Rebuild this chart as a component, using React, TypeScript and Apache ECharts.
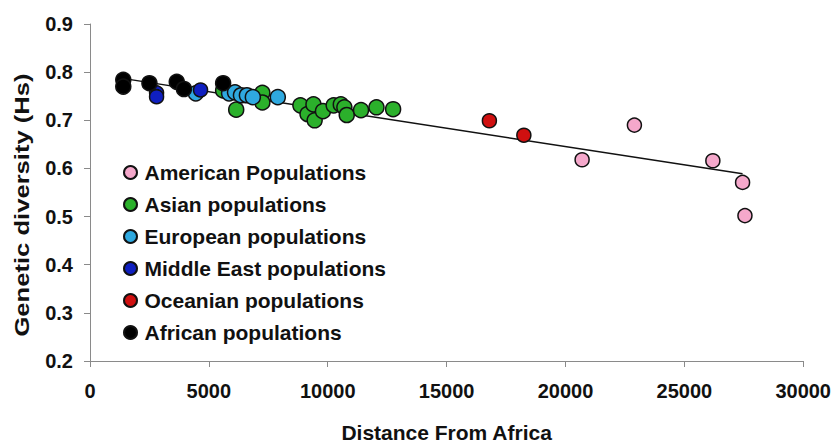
import React, { useEffect, useRef } from "react";
import * as echarts from "echarts";

const xTicks = { min: 0, max: 30000, interval: 5000 };
const yTicks = { min: 0.2, max: 0.9, interval: 0.1 };
const xTitle = "Distance From Africa";
const yTitle = "Genetic diversity (Hs)";

const american: [number, number][] = [
  [20700, 0.618],
  [22900, 0.69],
  [26200, 0.616],
  [27450, 0.571],
  [27550, 0.502],
];
const asian: [number, number][] = [
  [5600, 0.762],
  [6150, 0.722],
  [7250, 0.757],
  [7250, 0.737],
  [8850, 0.731],
  [9150, 0.713],
  [9400, 0.733],
  [9450, 0.7],
  [9800, 0.719],
  [10250, 0.731],
  [10550, 0.733],
  [10700, 0.727],
  [10800, 0.711],
  [11400, 0.721],
  [12050, 0.727],
  [12750, 0.723],
];
const european: [number, number][] = [
  [4450, 0.756],
  [5850, 0.756],
  [6100, 0.758],
  [6350, 0.752],
  [6600, 0.752],
  [6850, 0.748],
  [7900, 0.748],
];
const middleEast: [number, number][] = [
  [2800, 0.757],
  [2800, 0.749],
  [4650, 0.763],
];
const oceanian: [number, number][] = [
  [16800, 0.699],
  [18250, 0.669],
];
const african: [number, number][] = [
  [1400, 0.784],
  [1400, 0.77],
  [2500, 0.777],
  [3650, 0.78],
  [3950, 0.765],
  [5600, 0.777],
];
const trend: [number, number][] = [
  [1500, 0.786],
  [27450, 0.589],
];

const seriesDefs = [
  { name: "American Populations", data: american, color: "#f5a8cb", size: 14 },
  { name: "Asian populations", data: asian, color: "#2bb02b", size: 15 },
  { name: "European populations", data: european, color: "#2fa9e0", size: 15 },
  { name: "Middle East populations", data: middleEast, color: "#0f1fc0", size: 14 },
  { name: "Oceanian populations", data: oceanian, color: "#d01010", size: 14 },
  { name: "African populations", data: african, color: "#000000", size: 15 },
];

const FONT = "'Liberation Sans', Arial, sans-serif";

export default function App() {
  const ref = useRef<HTMLDivElement>(null);
  useEffect(() => {
    if (!ref.current) return;
    const chart = echarts.init(ref.current, undefined, { renderer: "svg" });
    const scatter = seriesDefs.map((s) => ({
      name: s.name,
      type: "scatter",
      data: s.data,
      symbol: "circle",
      symbolSize: s.size,
      z: 3,
      itemStyle: { color: s.color, borderColor: "#111", borderWidth: 1.5, opacity: 1 },
      emphasis: { disabled: true },
    }));
    chart.setOption({
      animation: false,
      backgroundColor: "#ffffff",
      textStyle: { fontFamily: FONT },
      grid: { left: 90, right: 29, top: 24, bottom: 79 },
      legend: {
        orient: "vertical",
        left: 118,
        top: 157,
        itemWidth: 18,
        itemHeight: 13,
        itemGap: 11,
        icon: "circle",
        data: seriesDefs.map((s) => s.name),
        textStyle: { fontSize: 21, fontWeight: "bold", color: "#111", fontFamily: FONT, lineHeight: 21 },
        selectedMode: false,
      },
      graphic: [
        {
          type: "text",
          x: 22,
          y: 205,
          rotation: Math.PI / 2,
          scaleX: 1.22,
          style: {
            text: yTitle,
            font: "bold 21px 'Liberation Sans', Arial, sans-serif",
            fill: "#111",
            align: "center",
            verticalAlign: "middle",
            textAlign: "center",
            textVerticalAlign: "middle",
          },
        },
      ],
      xAxis: {
        type: "value",
        min: xTicks.min,
        max: xTicks.max,
        interval: xTicks.interval,
        name: xTitle,
        nameLocation: "middle",
        nameGap: 61,
        nameTextStyle: { fontSize: 21, fontWeight: "bold", color: "#111", fontFamily: FONT },
        splitLine: { show: false },
        axisLine: { lineStyle: { color: "#8a8a8a", width: 1 } },
        axisTick: { show: true, length: 6, lineStyle: { color: "#8a8a8a" } },
        axisLabel: {
          fontSize: 20,
          fontWeight: "bold",
          color: "#111",
          margin: 20,
          fontFamily: FONT,
          formatter: (v: number) => String(v),
        },
      },
      yAxis: {
        type: "value",
        min: yTicks.min,
        max: yTicks.max,
        interval: yTicks.interval,
        splitLine: { show: false },
        axisLine: { show: true, lineStyle: { color: "#8a8a8a", width: 1 } },
        axisTick: { show: true, length: 6, lineStyle: { color: "#8a8a8a" } },
        axisLabel: {
          fontSize: 20,
          fontWeight: "bold",
          color: "#111",
          margin: 17,
          fontFamily: FONT,
          formatter: (v: number) => v.toFixed(1),
        },
      },
      series: [
        {
          name: "trend",
          type: "line",
          data: trend,
          symbol: "none",
          z: 2,
          lineStyle: { color: "#111", width: 1.5 },
          emphasis: { disabled: true },
        },
        ...scatter,
      ],
    });
    return () => chart.dispose();
  }, []);
  return (
    <div
      ref={ref}
      style={{ position: "fixed", left: 0, top: 0, width: 834, height: 448, background: "#fff" }}
    />
  );
}
